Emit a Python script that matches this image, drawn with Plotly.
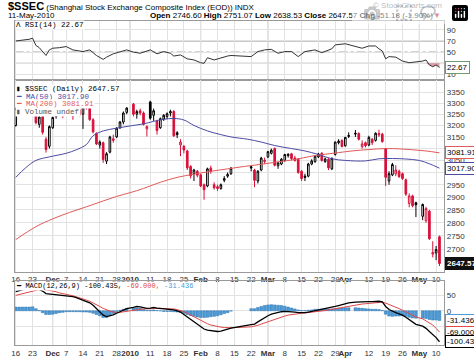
import math
import plotly.graph_objects as go

W, H = 474, 358

# ---------------- data ----------------
n_days = 127  # weekdays 16-Nov-2009 .. 11-May-2010 (holidays = None)
tick_idx = [0, 5, 11, 15, 20, 25, 30, 34, 40, 45, 50, 55, 60, 65, 70, 75, 80, 85, 90, 95, 98, 105, 110, 115, 120, 125]
tick_text = ["16", "23", "<b>Dec</b>", "7", "14", "21", "28", "<b>2010</b>", "11", "18", "25", "<b>Feb</b>", "8",
             "15", "22", "<b>Mar</b>", "8", "15", "22", "29", "<b>Apr</b>", "12", "19", "26", "<b>May</b>", "10"]
month_idx = [11, 34, 55, 75, 98, 120]

opens = [3200, 3270, 3285, 3290, 3305, 3310, 3335, 3205, 3240, 3140,
         3110, 3190, 3240, 3272, 3262, 3280, 3300, 3265, 3265, 3270,
         3250, 3292, 3280, 3225, 3165, 3115, 3125, 3047, 3085, 3135,
         3150, 3190, 3215, 3258, None, 3295, 3250, 3265, 3255, 3185,
         3305, 3245, 3220, 3190, 3228, 3240, 3255, 3262, 3168, 3115,
         3110, 3090, 3025, 2995, 3005, 2990, 2950, 2945, 3018, 2950,
         2942, 2935, 2968, 2985, 2995, None, None, None, None, None,
         3024, 3010, 2965, 3010, 3045, 3065, 3080, 3100, 3028, 3035,
         3050, 3070, 3078, 3060, 3055, 3005, 2985, 2985, 3035, 3045,
         3065, 3080, 3045, 3055, 3015, 3075, 3125, 3135, 3112, 3156,
         None, 3166, 3165, 3108, 3125, 3115, 3140, 3135, 3158, 3162,
         3100, 2965, 2990, 2995, 3005, 2995, 2970, 2875, 2905, 2878,
         None, 2825, 2808, 2845, 2682, 2686, 2746.60]
highs = [3280, 3285, 3298, 3312, 3315, 3361, 3345, 3245, 3250, 3150,
         3200, 3240, 3275, 3290, 3285, 3320, 3305, 3275, 3272, 3280,
         3310, 3300, 3286, 3232, 3170, 3135, 3130, 3085, 3155, 3160,
         3192, 3220, 3262, 3282, None, 3300, 3270, 3275, 3262, 3200,
         3310, 3275, 3225, 3235, 3250, 3258, 3270, 3268, 3175, 3140,
         3115, 3095, 3030, 3015, 3010, 2995, 2955, 3020, 3028, 2960,
         2950, 2955, 2985, 3000, 3022, None, None, None, None, None,
         3028, 3015, 3010, 3065, 3062, 3090, 3100, 3105, 3045, 3060,
         3078, 3080, 3082, 3070, 3060, 3010, 2995, 3040, 3055, 3072,
         3082, 3085, 3062, 3060, 3062, 3130, 3140, 3140, 3150, 3170,
         None, 3180, 3170, 3135, 3130, 3155, 3145, 3170, 3181, 3168,
         3102, 3005, 3040, 3030, 3012, 3000, 2975, 2915, 2910, 2882,
         None, 2875, 2862, 2850, 2730, 2712, 2751.07]
lows = [3195, 3250, 3265, 3280, 3290, 3305, 3205, 3190, 3160, 3083,
        3100, 3185, 3230, 3255, 3232, 3270, 3265, 3225, 3245, 3240,
        3185, 3270, 3220, 3165, 3115, 3100, 3040, 3035, 3080, 3125,
        3145, 3185, 3205, 3250, None, 3240, 3230, 3245, 3200, 3152,
        3225, 3220, 3160, 3185, 3220, 3228, 3240, 3150, 3145, 3068,
        3080, 3010, 2975, 2965, 2980, 2940, 2890, 2940, 2995, 2930,
        2925, 2930, 2960, 2978, 2990, None, None, None, None, None,
        3005, 2940, 2955, 3005, 3035, 3060, 3075, 3025, 3015, 3030,
        3045, 3062, 3050, 3045, 2995, 2965, 2965, 2980, 3030, 3040,
        3060, 3045, 3040, 3010, 3010, 3070, 3118, 3105, 3108, 3145,
        None, 3150, 3135, 3100, 3105, 3110, 3115, 3130, 3150, 3125,
        2945, 2950, 2985, 2985, 2978, 2970, 2905, 2860, 2860, 2822,
        None, 2810, 2800, 2735, 2670, 2660, 2638.53]
closes = [3275, 3282, 3292, 3308, 3309, 3338, 3212, 3237, 3170, 3096,
          3195, 3235, 3270, 3277, 3275, 3311, 3274, 3240, 3257, 3247,
          3298, 3285, 3226, 3172, 3120, 3128, 3054, 3078, 3150, 3142,
          3188, 3215, 3255, 3277, None, 3250, 3262, 3255, 3205, 3195,
          3232, 3265, 3178, 3230, 3245, 3252, 3262, 3155, 3160, 3128,
          3094, 3019, 2986, 3010, 2989, 2945, 2930, 3015, 3005, 2938,
          2935, 2950, 2975, 2992, 3018, None, None, None, None, None,
          3019, 2968, 3005, 3060, 3051, 3087, 3093, 3030, 3040, 3055,
          3075, 3076, 3058, 3050, 3000, 2975, 2980, 3035, 3048, 3068,
          3077, 3050, 3056, 3019, 3059, 3128, 3132, 3109, 3148, 3153,
          None, 3163, 3140, 3120, 3112, 3148, 3125, 3166, 3165, 3130,
          2980, 2995, 3033, 3010, 2983, 2975, 2912, 2905, 2866, 2870,
          None, 2871, 2855, 2739, 2688, 2698.75, 2647.57]

ma50_x = [0, 3, 6, 10, 15, 18, 21, 23, 26, 30, 34, 38, 41, 44, 47, 50, 53, 57, 61, 64,
          69, 73, 77, 82, 86, 90, 94, 98, 104, 108, 112, 116, 120, 123, 126]
ma50_v = [2980, 3020, 3050, 3065, 3080, 3095, 3117, 3155, 3176, 3188, 3198, 3207, 3218, 3227, 3231,
          3224, 3200, 3176, 3160, 3150, 3140, 3128, 3113, 3100, 3090, 3075, 3057, 3050, 3048, 3057,
          3058, 3056, 3050, 3036, 3017.90]
ma200_x = [0, 6, 11, 16, 21, 26, 30, 34, 38, 43, 48, 53, 58, 63, 68, 73, 78, 83, 88, 92,
           96, 100, 105, 110, 114, 118, 122, 126]
ma200_v = [2736, 2785, 2815, 2840, 2862, 2885, 2903, 2918, 2935, 2960, 2980, 2993, 3005, 3015,
           3025, 3034, 3044, 3054, 3068, 3076, 3083, 3090, 3096, 3100, 3099, 3095, 3090, 3081.91]

rsi_x = [0, 2, 4, 5, 6, 7, 8, 9, 10, 11, 13, 15, 17, 20, 22, 24, 26, 27, 29, 31,
         33, 35, 37, 39, 40, 42, 44, 46, 47, 49, 51, 53, 55, 56, 57, 59, 61, 63, 64, 70,
         72, 74, 76, 78, 80, 82, 84, 86, 89, 91, 94, 95, 98, 101, 103, 105, 107, 108, 109, 110,
         111, 113, 115, 117, 119, 121, 122, 123, 124, 125, 126]
rsi_v = [70, 71, 73, 75, 62, 58, 50, 44, 54, 57, 58, 60, 54, 51, 54, 44, 37, 41, 47, 50,
         54, 50, 48, 52, 54, 47, 51, 48, 43, 45, 38, 36, 31, 30, 40, 36, 40, 43, 44, 42,
         51, 54, 55, 48, 51, 51, 42, 51, 54, 49, 56, 63, 65, 60, 57, 61, 61, 56, 52, 38,
         42, 41, 34, 31, 32, 34, 36, 27, 24, 27, 22.67]

macd_v = [62, 65, 68, 71, 74, 78, 74, 70, 64, 56,
          55, 54, 53, 52, 50, 50, 48, 46, 43, 39,
          35, 31, 26, 18, 8, -2, -14, -19, -17, -13,
          -8, -3, 2, 7, None, 11, 14, 13, 10, 8,
          9, 11, 9, 8, 6, 5, 5, 3, 0, -4,
          -12, -20, -29, -38, -46, -54, -59, -63, -65, -67,
          -67, -66, -63, -60, -56, None, None, None, None, None,
          -45, -43, -36, -29, -22, -16, -11, -8, -5, -3,
          -2, -2, -3, -4, -6, -7, -6, -4, -2, 1,
          3, 5, 7, 9, 11, 14, 17, 20, 24, 26,
          None, 28, 29, 30, 30, 30, 30, 31, 31, 29,
          14, 4, -2, -6, -10, -14, -21, -29, -37, -44,
          None, -50, -57, -67, -76, -87, -100.4354]
signal_v = [50, 53, 56, 59, 62, 65, 67, 69, 70, 68,
            67, 65, 62, 58, 55, 53, 51, 49, 46, 42,
            39, 35, 31, 26, 20, 14, 8, 3, -1, -4,
            -6, -5, -3, -1, None, 2, 4, 5, 6, 7,
            7, 8, 8, 8, 8, 7, 7, 6, 4, 1,
            -3, -8, -14, -20, -26, -32, -37, -42, -46, -49,
            -51, -53, -54, -54, -55, None, None, None, None, None,
            -52, -50, -47, -43, -39, -35, -31, -27, -23, -20,
            -17, -14, -12, -10, -9, -8, -7, -6, -5, -4,
            -2, -1, 1, 3, 5, 7, 9, 11, 14, 16,
            None, 18, 20, 22, 23, 24, 25, 26, 27, 28,
            25, 21, 16, 11, 7, 2, -3, -8, -14, -20,
            None, -26, -32, -39, -46, -57, -68.9996]

price_ticks = [2700, 2750, 2800, 2850, 2900, 2950, 3000, 3050, 3100, 3150, 3200, 3250, 3300, 3350]
rsi_ticks = [10, 30, 50, 70, 90]
macd_ticks = [-50, 0, 50]

# ---------------- layout helpers ----------------
SANS = "Liberation Sans, Arial, sans-serif"
MONO = "Liberation Mono, DejaVu Sans Mono, monospace"
RED = "#d8103a"
MA50_C = "#4b4ba3"
MA200_C = "#e05a5a"
SIG_C = "#e04848"
HIST_C = "#4a9bd8"
GRID = "#e2e2e2"
BORDER = "#9a9a9a"


def px(xp):
    return xp / W


def py(yp):
    return 1 - yp / H


X0, X1 = 11.7, 444.0
dom_x = [px(X0), px(X1)]
rsi_dom = [py(80), py(20.7)]
price_dom = [py(272.5), py(80)]
macd_dom = [py(346), py(282)]
xr = [-0.33, 127.4]

days = list(range(n_days))
trading = [i for i in days if closes[i] is not None]
prev_close = {}
last = None
for i in trading:
    prev_close[i] = last
    last = closes[i]
red_idx = [i for i in trading if prev_close[i] is not None and closes[i] < prev_close[i]]
blk_idx = [i for i in trading if i not in red_idx]

fig = go.Figure()


def candle(idx, col):
    return go.Candlestick(
        x=idx, open=[opens[i] for i in idx], high=[highs[i] for i in idx],
        low=[lows[i] for i in idx], close=[closes[i] for i in idx],
        increasing=dict(line=dict(color=col, width=1), fillcolor="white"),
        decreasing=dict(line=dict(color=col, width=1), fillcolor=col),
        whiskerwidth=0, xaxis="x2", yaxis="y2", showlegend=False, hoverinfo="skip")


# RSI panel
fig.add_trace(go.Scatter(x=rsi_x, y=[30] * len(rsi_x), mode="lines", line=dict(width=0),
                         xaxis="x", yaxis="y", hoverinfo="skip"))
fig.add_trace(go.Scatter(x=rsi_x, y=[min(v, 30) for v in rsi_v], mode="lines", line=dict(width=0),
                         fill="tonexty", fillcolor="rgba(205,90,110,0.6)", xaxis="x", yaxis="y",
                         hoverinfo="skip"))
fig.add_trace(go.Scatter(x=rsi_x, y=rsi_v, mode="lines", line=dict(color="#333333", width=1),
                         xaxis="x", yaxis="y", hoverinfo="skip"))

# Price panel
fig.add_trace(go.Scatter(x=ma200_x, y=ma200_v, mode="lines", line=dict(color=MA200_C, width=1, shape="spline"),
                         xaxis="x2", yaxis="y2", hoverinfo="skip"))
fig.add_trace(go.Scatter(x=ma50_x, y=ma50_v, mode="lines", line=dict(color=MA50_C, width=1, shape="spline"),
                         xaxis="x2", yaxis="y2", hoverinfo="skip"))
fig.add_trace(candle(blk_idx, "#000000"))
fig.add_trace(candle(red_idx, RED))

# MACD panel
hist_x = [i for i in days if macd_v[i] is not None]
hist_v = [macd_v[i] - signal_v[i] for i in hist_x]
fig.add_trace(go.Bar(x=hist_x, y=hist_v, width=0.8, marker=dict(color=HIST_C, line=dict(color="#2f74b0", width=0.5)),
                     xaxis="x3", yaxis="y3", hoverinfo="skip"))
fig.add_trace(go.Scatter(x=hist_x, y=[signal_v[i] for i in hist_x], mode="lines",
                         line=dict(color=SIG_C, width=1), xaxis="x3", yaxis="y3", hoverinfo="skip"))
fig.add_trace(go.Scatter(x=hist_x, y=[macd_v[i] for i in hist_x], mode="lines",
                         line=dict(color="#000000", width=1.3), xaxis="x3", yaxis="y3", hoverinfo="skip"))

tickfont = dict(family=SANS, size=8, color="#333333")


def xax(anchor, labels):
    return dict(domain=dom_x, range=xr, anchor=anchor, tickmode="array", tickvals=tick_idx, ticktext=tick_text,
                showticklabels=labels, showgrid=True, gridcolor=GRID, gridwidth=1, zeroline=False,
                showline=True, linecolor=BORDER, linewidth=1, mirror=True, ticks="", ticklen=0,
                tickangle=0, tickfont=tickfont, fixedrange=True)


def yax(anchor, dom, **kw):
    d = dict(domain=dom, anchor=anchor, side="right", showgrid=True, gridcolor=GRID, gridwidth=1,
             zeroline=False, showline=True, linecolor=BORDER, linewidth=1, mirror=True, ticks="", ticklen=0,
             tickfont=tickfont, fixedrange=True, tickmode="array")
    d.update(kw)
    return d


x2 = xax("y2", True)
x2["rangeslider"] = dict(visible=False)

shapes = []
for (yy, dash, col) in [(70, "solid", "#8a8a8a"), (30, "solid", "#8a8a8a"), (50, "dashdot", "#8a8a8a")]:
    shapes.append(dict(type="line", xref="x", yref="y", x0=xr[0], x1=xr[1], y0=yy, y1=yy,
                       line=dict(color=col, width=1, dash=dash), layer="below"))
for m in month_idx:
    for dom in (rsi_dom, price_dom, macd_dom):
        shapes.append(dict(type="line", xref="x2", yref="paper", x0=m, x1=m, y0=dom[0], y1=dom[1],
                           line=dict(color="#c4c4c4", width=1), layer="below"))

annotations = []


def ann(text, x, y, xanchor="left", size=8, color="#000000", family=SANS, xref="paper", yref="paper", **kw):
    annotations.append(dict(text=text, x=x, y=y, xref=xref, yref=yref, xanchor=xanchor, yanchor="middle",
                            showarrow=False, font=dict(family=family, size=size, color=color), **kw))


last_o, last_h, last_l, last_c = opens[-1], highs[-1], lows[-1], closes[-1]
chg = last_c - closes[-2]
pct = chg / closes[-2] * 100

ann("<span style='font-size:11px'><b>$SSEC</b></span> (Shanghai Stock Exchange Composite Index (EOD)) INDX",
    px(3), py(6.5), size=8)
ann("11-May-2010", px(3), py(16), size=8)
ann(f"<b>Open</b> {last_o:.2f} <b>High</b> {last_h:.2f} <b>Low</b> {last_l:.2f} <b>Close</b> {last_c:.2f} "
    f"<b>Chg</b> {chg:.2f} ({pct:.2f}%)<span style='color:#d01020'>▼</span>",
    px(443), py(16), xanchor="right", size=8)
ann("© StockCharts.com", px(444), py(6), xanchor="right", size=8, color="#777777")

# panel legends
ann("Λ RSI(14) " + f"{rsi_v[-1]:.2f}", px(12), py(25), family=MONO, size=7.5, bgcolor="white", borderpad=0)
ann(f"▮ $SSEC (Daily) {last_c:.2f}", px(12), py(89.5), family=MONO, size=7.5, bgcolor="white", borderpad=0)
ann(f"<span style='color:{MA50_C}'>━ MA(50) {ma50_v[-1]:.2f}</span>", px(12), py(97), family=MONO, size=7.5,
    bgcolor="white", borderpad=0)
ann(f"<span style='color:{MA200_C}'>━ MA(200) {ma200_v[-1]:.2f}</span>", px(12), py(104.5), family=MONO, size=7.5,
    bgcolor="white", borderpad=0)
ann("<span style='color:#555'>▮ Volume undef</span>", px(12), py(112), family=MONO, size=7.5,
    bgcolor="white", borderpad=0)
ann(f"━ MACD(12,26,9) {macd_v[-1]:.3f}, <span style='color:{SIG_C}'>{signal_v[-1]:.3f},</span> "
    f"<span style='color:{HIST_C}'>{hist_v[-1]:.3f}</span>", px(12), py(287), family=MONO, size=7,
    bgcolor="white", borderpad=0)

# value boxes on right axis
box = dict(borderwidth=1, borderpad=1, bgcolor="white")
ann(f"{rsi_v[-1]:.2f}", px(445), rsi_v[-1], yref="y", bordercolor="#6f9a6f", **box)
ann(f"{ma200_v[-1]:.2f}", px(445), math.log10(ma200_v[-1]), yref="y2", bordercolor=MA200_C, **box)
ann(f"{ma50_v[-1]:.2f}", px(445), math.log10(ma50_v[-1]), yref="y2", bordercolor=MA50_C, **box)
annotations.append(dict(text=f"<b>{last_c:.2f}</b>", x=px(445), y=math.log10(last_c), xref="paper", yref="y2",
                        xanchor="left", yanchor="middle", showarrow=False, bgcolor="#111111",
                        bordercolor="#111111", borderwidth=1, borderpad=1,
                        font=dict(family=SANS, size=8, color="white")))
ann(f"{hist_v[-1]:.3f}", px(445), hist_v[-1], yref="y3", bordercolor=HIST_C, **box)
ann(f"{signal_v[-1]:.3f}", px(445), signal_v[-1], yref="y3", bordercolor=SIG_C, **box)
ann(f"{macd_v[-1]:.3f}", px(445), macd_v[-1], yref="y3", bordercolor="#000000", **box)

fig.update_layout(
    width=W, height=H, autosize=False, margin=dict(l=0, r=0, t=0, b=0),
    paper_bgcolor="white", plot_bgcolor="white", showlegend=False, bargap=0.15,
    xaxis=xax("y", False), xaxis2=x2, xaxis3=xax("y3", True),
    yaxis=yax("x", rsi_dom, range=[0.5, 106.4], tickvals=rsi_ticks),
    yaxis2=yax("x2", price_dom, type="log", range=[math.log10(2618), math.log10(3407)],
               tickvals=price_ticks, ticktext=[str(v) for v in price_ticks]),
    yaxis3=yax("x3", macd_dom, range=[-111, 96], tickvals=macd_ticks),
    shapes=shapes, annotations=annotations,
)

fig.write_html("out.html", post_script="document.body.style.margin='0';")
